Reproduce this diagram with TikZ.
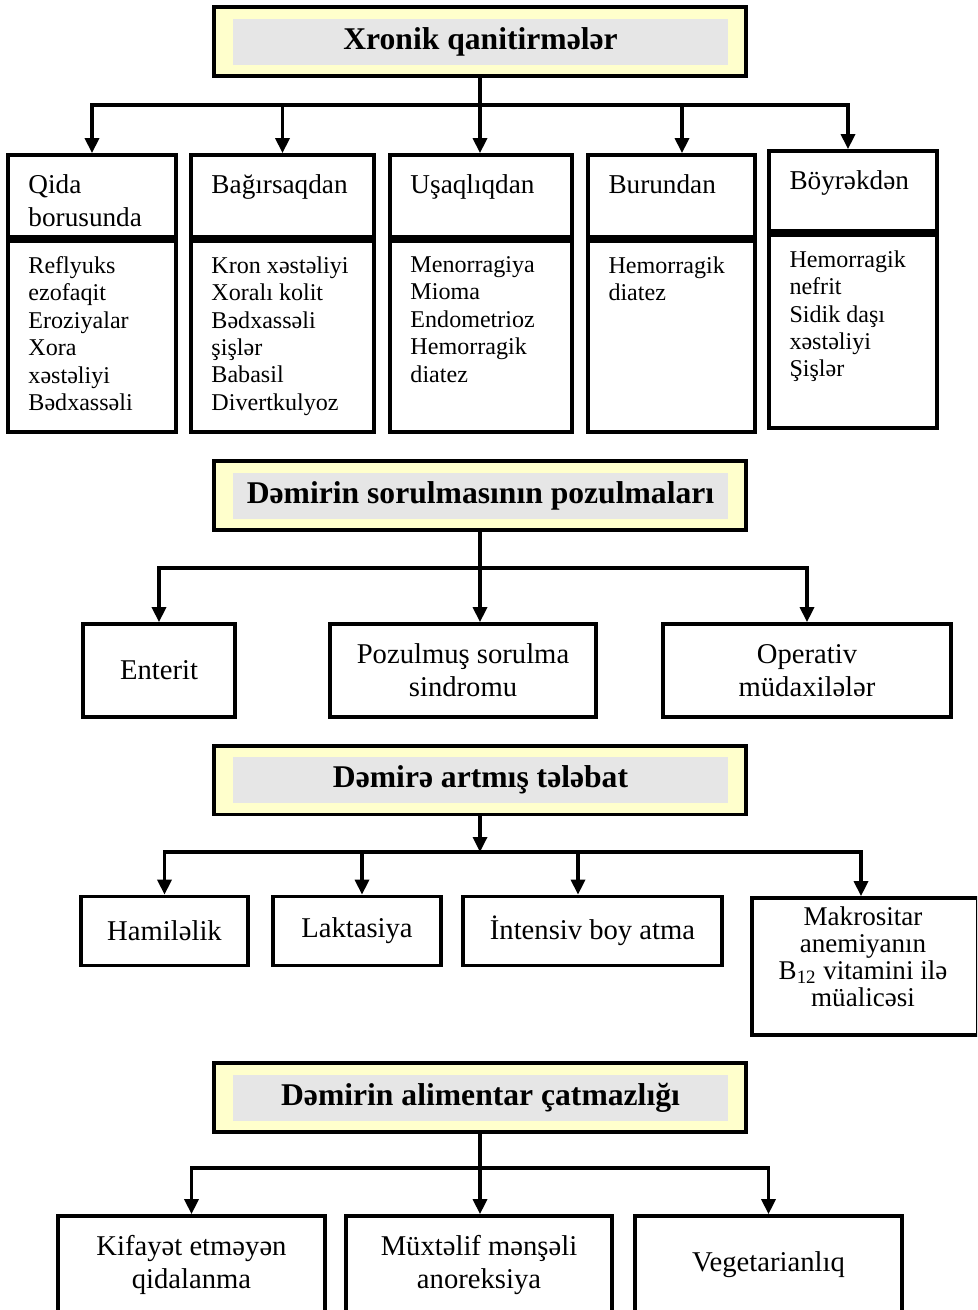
\documentclass[tikz,border=0pt]{standalone}
\usepackage{fontspec}
\setmainfont{Liberation Serif}
\usetikzlibrary{arrows.meta}
\definecolor{headyellow}{HTML}{FFFFCC}
\definecolor{headgray}{HTML}{E6E6E6}

\begin{document}
\begin{tikzpicture}[x=0.02cm, y=-0.02cm,
  head/.style={draw, line width=0.08cm, fill=headyellow, minimum width=10.64cm, minimum height=1.38cm},
  headtext/.style={fill=headgray, minimum width=9.9cm, minimum height=0.92cm, inner sep=0pt, font=\fontsize{18}{21}\selectfont\bfseries},
  box/.style={draw, line width=0.075cm, inner sep=0pt},
  cause/.style={box, align=center, font=\fontsize{16.3}{18.8}\selectfont},
  coltitle/.style={inner sep=0pt, anchor=north west, align=left, font=\fontsize{15.5}{18.8}\selectfont},
  collist/.style={inner sep=0pt, anchor=north west, align=left, font=\fontsize{13.7}{15.6}\selectfont},
  arr/.style={line width=0.066cm, -{Triangle[length=0.3cm, width=0.28cm]}}
]
  \useasboundingbox (0,0) rectangle (977,1310);
  \clip (0,0) rectangle (977,1310);

  % Xronik qanitirmeler
  \node[head] (hd1) at (480,42) {};
  \node[headtext] (hd1in) at (480.5,42) {Xronik qanitirmələr};
  \coordinate (j1) at (480,105);

  \node[box, minimum width=3.36cm, minimum height=1.64cm] (qida) at (92,196) {};
  \node[box, minimum width=3.36cm, minimum height=3.82cm] (qidab) at (92,336.5) {};
  \node[box, minimum width=3.66cm, minimum height=1.64cm] (bag) at (282.5,196) {};
  \node[box, minimum width=3.66cm, minimum height=3.82cm] (bagb) at (282.5,336.5) {};
  \node[box, minimum width=3.64cm, minimum height=1.64cm] (usa) at (481,196) {};
  \node[box, minimum width=3.64cm, minimum height=3.82cm] (usab) at (481,336.5) {};
  \node[box, minimum width=3.34cm, minimum height=1.64cm] (bur) at (671.5,196) {};
  \node[box, minimum width=3.34cm, minimum height=3.82cm] (burb) at (671.5,336.5) {};
  \node[box, minimum width=3.36cm, minimum height=1.6cm] (boy) at (853,191) {};
  \node[box, minimum width=3.36cm, minimum height=3.86cm] (boyb) at (853,331.5) {};

  \node[coltitle] (qidat) at ([xshift=0.44cm, yshift=-0.42cm]qida.north west) {Qida\\borusunda};
  \node[coltitle] (bagt) at ([xshift=0.44cm, yshift=-0.42cm]bag.north west) {Bağırsaqdan};
  \node[coltitle] (usat) at ([xshift=0.44cm, yshift=-0.42cm]usa.north west) {Uşaqlıqdan};
  \node[coltitle] (burt) at ([xshift=0.44cm, yshift=-0.42cm]bur.north west) {Burundan};
  \node[coltitle] (boyt) at ([xshift=0.44cm, yshift=-0.42cm]boy.north west) {Böyrəkdən};

  \node[collist] (qidal) at ([xshift=0.44cm, yshift=-0.34cm]qidab.north west) {Reflyuks\\ezofaqit\\Eroziyalar\\Xora\\xəstəliyi\\Bədxassəli};
  \node[collist] (bagl) at ([xshift=0.44cm, yshift=-0.34cm]bagb.north west) {Kron xəstəliyi\\Xoralı kolit\\Bədxassəli\\şişlər\\Babasil\\Divertkulyoz};
  \node[collist] (usal) at ([xshift=0.44cm, yshift=-0.34cm]usab.north west) {Menorragiya\\Mioma\\Endometrioz\\Hemorragik\\diatez};
  \node[collist] (burl) at ([xshift=0.44cm, yshift=-0.34cm]burb.north west) {Hemorragik\\diatez};
  \node[collist] (boyl) at ([xshift=0.44cm, yshift=-0.34cm]boyb.north west) {Hemorragik\\nefrit\\Sidik daşı\\xəstəliyi\\Şişlər};

  \draw[arr] (hd1.south) -- (hd1.south |- usa.north);
  \draw[arr] (j1) -| (qida.north);
  \draw[arr] (j1) -| (bag.north);
  \draw[arr] (j1) -| ([xshift=0.21cm]bur.north);
  \draw[arr] (j1) -| ([xshift=-0.1cm]boy.north);

  % Demirin sorulmasinin pozulmalari
  \node[head] (hd2) at (480,495.5) {};
  \node[headtext] (hd2in) at (480.5,496) {Dəmirin sorulmasının pozulmaları};
  \coordinate (j2) at (480,568);

  \node[cause, minimum width=3.04cm, minimum height=1.86cm] (ent) at (159,670.5) {Enterit};
  \node[cause, minimum width=5.32cm, minimum height=1.86cm] (pz) at (463,670.5) {Pozulmuş sorulma\\sindromu};
  \node[cause, minimum width=5.76cm, minimum height=1.86cm] (op) at (807,670.5) {Operativ\\müdaxilələr};

  \draw[arr] (hd2.south) -- (hd2.south |- pz.north);
  \draw[arr] (j2) -| (ent.north);
  \draw[arr] (j2) -| (op.north);

  % Demire artmis telebat
  \node[head] (hd3) at (480,780) {};
  \node[headtext] (hd3in) at (480.5,780) {Dəmirə artmış tələbat};
  \coordinate (j3) at (480,852);

  \node[cause, minimum width=3.34cm, minimum height=1.38cm] (ham) at (164.5,931) {Hamiləlik};
  \node[cause, minimum width=3.36cm, minimum height=1.38cm] (lak) at (357,931) {Laktasiya};
  \node[cause, minimum width=5.18cm, minimum height=1.38cm] (int) at (592.5,931) {İntensiv boy atma};
  \node[box, minimum width=4.52cm, minimum height=2.74cm] (mak) at (865,966.5) {};
  \node[inner sep=0pt, align=center, font=\fontsize{15.4}{15.4}\selectfont] (makt) at (863,957) {Makrositar\\anemiyanın\\B\textsubscript{12} vitamini ilə\\müalicəsi};

  \draw[arr] (hd3.south) -- (j3);
  \draw[arr] (j3) -| (ham.north);
  \draw[arr] (j3) -| ([xshift=0.1cm]lak.north);
  \draw[arr] (j3) -| ([xshift=-0.29cm]int.north);
  \draw[arr] (j3) -| ([xshift=-0.08cm]mak.north);

  % Demirin alimentar catmazligi
  \node[head] (hd4) at (480,1097.5) {};
  \node[headtext] (hd4in) at (480.5,1097.5) {Dəmirin alimentar çatmazlığı};
  \coordinate (j4) at (480,1168);

  \node[cause, minimum width=5.34cm, minimum height=1.96cm] (kif) at (191.5,1265) {Kifayət etməyən\\qidalanma};
  \node[cause, minimum width=5.32cm, minimum height=1.96cm] (mux) at (479,1265) {Müxtəlif mənşəli\\anoreksiya};
  \node[cause, minimum width=5.34cm, minimum height=1.96cm] (veg) at (768.5,1265) {Vegetarianlıq};

  \draw[arr] (hd4.south) -- (hd4.south |- mux.north);
  \draw[arr] (j4) -| (kif.north);
  \draw[arr] (j4) -| (veg.north);
\end{tikzpicture}
\end{document}
